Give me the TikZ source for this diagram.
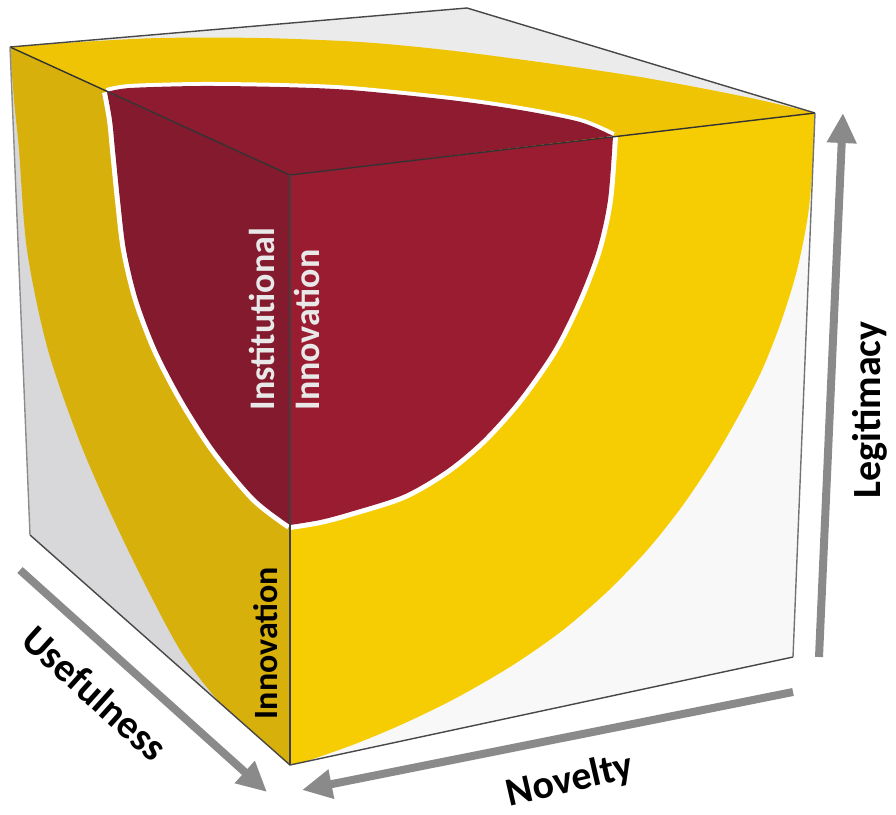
\documentclass[tikz,border=0pt]{standalone}
\usepackage{fontspec}
\setmainfont{Carlito}
\usetikzlibrary{arrows.meta}
\definecolor{leftgray}{HTML}{D8D8DA}
\definecolor{topgray}{HTML}{EBEBEB}
\definecolor{rightwhite}{HTML}{F8F8F8}
\definecolor{yleft}{HTML}{D7B00C}
\definecolor{ytop}{HTML}{EEC404}
\definecolor{yright}{HTML}{F6CC02}
\definecolor{rleft}{HTML}{841A2E}
\definecolor{rtop}{HTML}{8F1B30}
\definecolor{rright}{HTML}{991C31}
\definecolor{axisgray}{HTML}{8A8A8A}
\definecolor{labelwhite}{HTML}{E8E8E8}
\begin{document}
\begin{tikzpicture}[x=1pt,y=-1pt,
  edge/.style={line width=1.4pt,draw=black!72,line join=round},
  lightedge/.style={line width=1.4pt,draw=black!45},
  gap/.style={line width=10pt,draw=white},
  axis/.style={line width=8pt,draw=axisgray,-{Triangle[length=30pt,width=28pt]}},
  axislabel/.style={font=\bfseries\fontsize{40}{48}\selectfont,text=black,inner sep=0pt},
  facelabel/.style={font=\bfseries\fontsize{36}{44}\selectfont,text=labelwhite,inner sep=0pt,rotate=90},
  innerlabel/.style={font=\bfseries\fontsize{34}{40}\selectfont,text=black,inner sep=0pt,rotate=90}]
\useasboundingbox (0,0) rectangle (896,814);
% cube corners
\coordinate (A) at (10,47);
\coordinate (B) at (467,8);
\coordinate (C) at (815,113);
\coordinate (D) at (290,175);
\coordinate (E) at (290,765);
\coordinate (F) at (30,535);
\coordinate (G) at (793,657);
% ---------- top face
\fill[topgray] (A)--(B)--(C)--(D)--cycle;
\begin{scope}
\clip (A)--(B)--(C)--(D)--cycle;
\fill[ytop] plot[smooth] coordinates {(10,47) (80,42) (160,38) (260,38) (360,42) (446,50) (546,63) (646,78) (746,97) (815,113)} -- (D) -- cycle;
\draw[gap,line width=8pt] plot[smooth] coordinates {(107,92) (130,88) (200,86) (280,87) (350,90) (450,100) (520,110) (580,122) (613,136)};
\fill[rtop] plot[smooth] coordinates {(107,92) (130,88) (200,86) (280,87) (350,90) (450,100) (520,110) (580,122) (613,136)} -- (D) -- cycle;
\end{scope}
% ---------- left face
\fill[leftgray] (A)--(D)--(E)--(F)--cycle;
\begin{scope}
\clip (A)--(D)--(E)--(F)--cycle;
\fill[yleft] plot[smooth] coordinates {(10,47) (14,100) (19,150) (27,250) (48,350) (83,450) (128,550) (180,650) (222,705) (258,737)} -- (E) -- (D) -- cycle;
\draw[gap] plot[smooth] coordinates {(107,92) (112,120) (115,150) (120,200) (126,250) (138,300) (157,350) (183,400) (215,450) (255,498) (290,525)};
\fill[rleft] plot[smooth] coordinates {(107,92) (112,120) (115,150) (120,200) (126,250) (138,300) (157,350) (183,400) (215,450) (255,498) (290,525)} -- (D) -- cycle;
\end{scope}
% ---------- right face
\fill[rightwhite] (D)--(C)--(G)--(E)--cycle;
\begin{scope}
\clip (D)--(C)--(G)--(E)--cycle;
\fill[yright] plot[smooth] coordinates {(815,113) (813,160) (808,215) (797,270) (781,322) (762,370) (739,415) (713,460) (683,505) (649,548) (609,590) (563,630) (513,665) (458,697) (405,723) (355,744) (310,760)} -- (E) -- (D) -- cycle;
\draw[gap] plot[smooth] coordinates {(613,136) (608,200) (597,250) (578,300) (553,350) (518,400) (482,440) (446,470) (403,495) (350,512) (320,520) (290,525)};
\fill[rright] plot[smooth] coordinates {(613,136) (608,200) (597,250) (578,300) (553,350) (518,400) (482,440) (446,470) (403,495) (350,512) (320,520) (290,525)} -- (D) -- cycle;
\end{scope}
% ---------- edges
\draw[edge] (A)--(B)--(C);
\draw[edge,draw=black!80] (A)--(D)--(C);
\draw[edge,line width=1.1pt,draw=black!75] (D)--(E);
\draw[lightedge] (A)--(F);
\draw[edge] (F)--(E)--(G);
\draw[lightedge,draw=black!55] (C)--(G);
% ---------- labels on faces
\node[facelabel] (inst) at (261.5,319) {Institutional};
\node[facelabel] (instinn) at (306.5,330) {Innovation};
\node[innerlabel] (inn) at (266,643) {Innovation};
% ---------- axes
\coordinate (legS) at (819,657);
\coordinate (legE) at (843,113);
\coordinate (useS) at (20,570);
\coordinate (useE) at (267,792);
\coordinate (novS) at (793,692);
\coordinate (novE) at (302,790);
\draw[axis] (legS) -- (legE);
\draw[axis] (useS) -- (useE);
\draw[axis] (novS) -- (novE);
\node[axislabel,rotate=90] (leg) at (870,410) {Legitimacy};
\node[axislabel,rotate=-42] (use) at (95,693) {Usefulness};
\node[axislabel,rotate=13] (nov) at (570,781) {Novelty};
\end{tikzpicture}
\end{document}
